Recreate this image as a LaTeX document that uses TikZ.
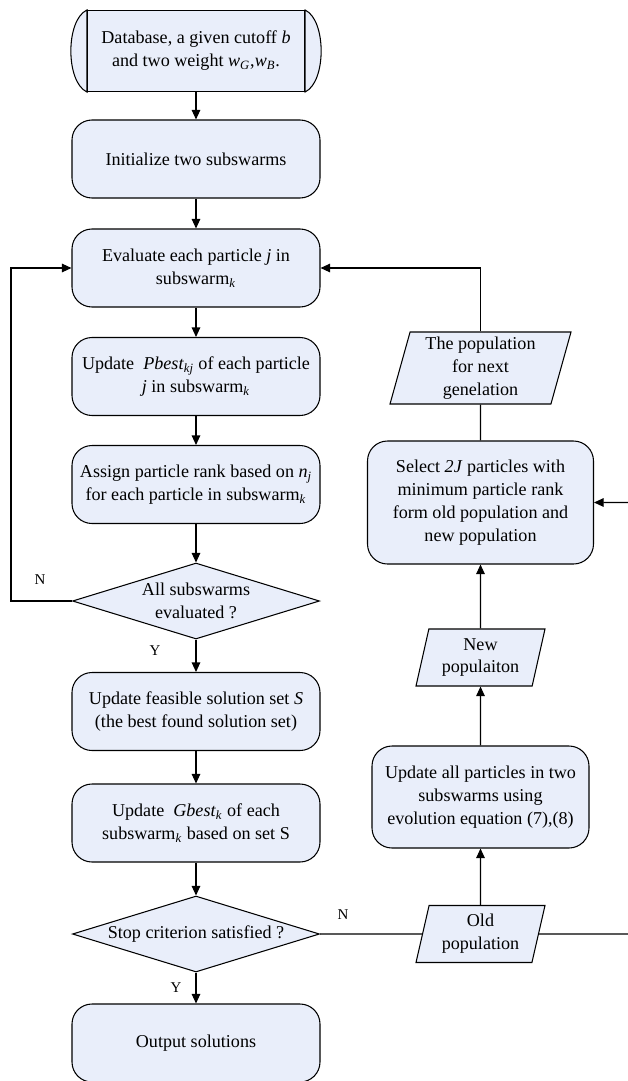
\documentclass[tikz,border=0pt]{standalone}
\usepackage{fontspec}
\setmainfont{Liberation Serif}
\usetikzlibrary{shapes.geometric,arrows.meta}
\definecolor{boxfill}{RGB}{233,238,250}
\tikzset{
  procbox/.style={draw, fill=boxfill, rounded corners=0.4cm, minimum width=4.96cm,
    minimum height=1.56cm, align=center, inner sep=2pt},
  decbox/.style={draw, fill=boxfill, diamond, aspect=3.25, inner sep=0pt,
    minimum width=4.94cm, minimum height=1.52cm, align=center},
  iobox/.style={draw, fill=boxfill, trapezium, trapezium left angle=73,
    trapezium right angle=107, trapezium stretches body, align=center, inner sep=1pt},
  link/.style={-{Triangle[length=0.19cm,width=0.17cm]}},
  yn/.style={font=\fontsize{8.5}{10}\selectfont},
}
\begin{document}
\begin{tikzpicture}[line width=0.6pt, font=\fontsize{10.3}{13}\selectfont]

    \useasboundingbox (0,0) rectangle (12.56,-21.62);

    % left column
    \node[draw, fill=boxfill, minimum width=4.34cm, minimum height=1.62cm, align=center]
        (db) at (3.92,-1.02) {Database, a given cutoff \textit{b}\\and two weight
        \textit{w}\textsubscript{\textit{G}},\textit{w}\textsubscript{\textit{B}}.};
    \draw[fill=boxfill] (db.north west) .. controls +(-0.43,-0.2) and +(-0.43,0.2) .. (db.south west) -- cycle;
    \draw[fill=boxfill] (db.north east) .. controls +(0.43,-0.2) and +(0.43,0.2) .. (db.south east) -- cycle;

    \node[procbox] (init) at (3.92,-3.18) {Initialize two subswarms};
    \node[procbox] (eval) at (3.92,-5.36) {Evaluate each particle \textit{j} in\\subswarm\textsubscript{\textit{k}}};
    \node[procbox] (pbest) at (3.92,-7.53) {Update \ \textit{Pbest}\textsubscript{\textit{kj}} of each particle\\\textit{j} in subswarm\textsubscript{\textit{k}}};
    \node[procbox] (assign) at (3.92,-9.69) {Assign particle rank based on \textit{n}\textsubscript{\textit{j}}\\for each particle in subswarm\textsubscript{\textit{k}}};
    \node[decbox] (allsw) at (3.92,-12.02) {All subswarms\\evaluated ?};
    \node[procbox] (feas) at (3.92,-14.23) {Update feasible solution set \textit{S}\\(the best found solution set)};
    \node[procbox] (gbest) at (3.92,-16.46) {Update \ \textit{Gbest}\textsubscript{\textit{k}} of each\\subswarm\textsubscript{\textit{k}} based on set S};
    \node[decbox] (stop) at (3.92,-18.68) {Stop criterion satisfied ?};
    \node[procbox] (out) at (3.92,-20.86) {Output solutions};

    % right column
    \node[iobox, minimum width=3.62cm, minimum height=1.44cm] (nextgen) at (9.61,-7.36) {The population\\for next\\genelation};
    \node[procbox, minimum width=4.52cm, minimum height=2.46cm] (select) at (9.61,-10.05) {Select \textit{2J} particles with\\minimum particle rank\\form old population and\\new population};
    \node[iobox, minimum width=2.58cm, minimum height=1.14cm] (newpop) at (9.61,-13.15) {New\\populaiton};
    \node[procbox, minimum width=4.34cm, minimum height=2.04cm] (updall) at (9.61,-15.94) {Update all particles in two\\subswarms using\\evolution equation (7),(8)};
    \node[iobox, minimum width=2.58cm, minimum height=1.14cm] (oldpop) at (9.61,-18.68) {Old\\population};

    \node[yn] (nA) at (0.8,-11.6) {N};
    \node[yn] (yA) at (3.1,-13.02) {Y};
    \node[yn] (yB) at (3.52,-19.76) {Y};
    \node[yn] (nB) at (6.86,-18.3) {N};

    \draw[link] (db) -- (init);
    \draw[link] (init) -- (eval);
    \draw[link] (eval) -- (pbest);
    \draw[link] (pbest) -- (assign);
    \draw[link] (assign) -- (allsw);
    \draw[link] (allsw) -- (feas);
    \draw[link] (feas) -- (gbest);
    \draw[link] (gbest) -- (stop);
    \draw[link] (stop) -- (out);

    \coordinate (lft) at (0.22,-12.02);
    \draw[link] (allsw.west) -- (lft) |- (eval.west);
    \draw[link] (nextgen) |- (eval.east);
    \draw (nextgen) -- (select);
    \draw[link] (newpop) -- (select);
    \draw[link] (updall) -- (newpop);
    \draw[link] (oldpop) -- (updall);
    \draw (stop.east) -- (oldpop);
    \coordinate (rgt) at (12.7,-18.68);
    \draw[link] (oldpop) -- (rgt) |- (select.east);

\end{tikzpicture}
\end{document}
